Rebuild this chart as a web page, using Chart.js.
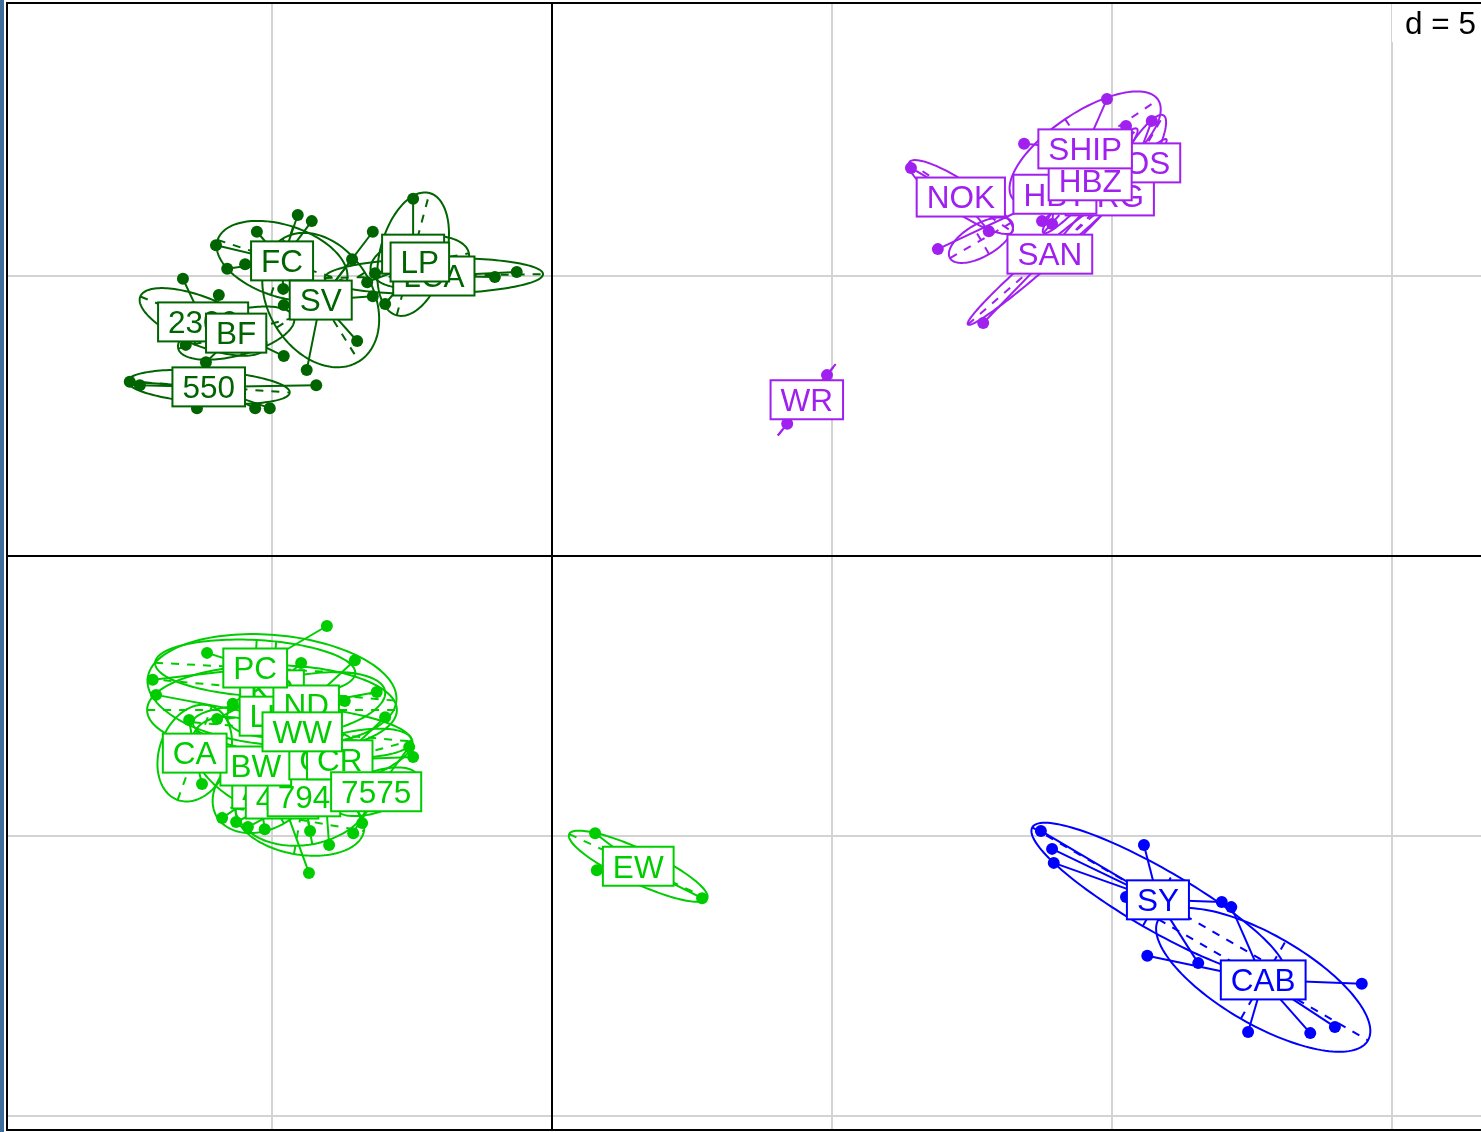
<!DOCTYPE html>
<html>
<head>
<meta charset="utf-8">
<script src="https://cdn.jsdelivr.net/npm/chart.js@4/dist/chart.umd.min.js"></script>
<style>
  html, body { margin: 0; padding: 0; background: #ffffff; }
  #wrap { position: relative; width: 1481px; height: 1132px; overflow: hidden; }
  #wrap canvas { position: absolute; left: 0; top: 0; }
  #edge { position: absolute; left: 0; top: 0; width: 4px; height: 1132px; background: #3e6f9b; }
</style>
</head>
<body>
<div id="wrap">
  <canvas id="plot" width="1481" height="1132"></canvas>
  <div id="edge"></div>
</div>
<script>
// ---- Grid ----
const gridStep = 5;
const xGrid = [-5, 0, 5, 10, 15];
const yGrid = [5, 0, -5, -10];
const xRange = [-9.732, 16.589];
const yRange = [-10.25, 9.875];

// ---- Groups ----
const groupNames = ['north-west', 'north-east', 'south-west', 'south-east'];
const groupColours = ['#006400', '#A020F0', '#00CD00', '#0000FF'];

// ---- Classes (label drawing order) ----
const classNames = ['2300', 'BF', '550', 'FC', 'LCA', 'LG', 'LP', 'SV',
                    'ARG', 'COS', 'HBT', 'HBZ', 'NOK', 'SAN', 'SHIP', 'WR',
                    'AN', '410', '794', 'BW', 'CA', 'CO', 'CR', '7575', 'KR', 'LU', 'ND', 'PC', 'WW', 'EW',
                    'CAB', 'SY'];
const classGroup = [0, 0, 0, 0, 0, 0, 0, 0,
                    1, 1, 1, 1, 1, 1, 1, 1,
                    2, 2, 2, 2, 2, 2, 2, 2, 2, 2, 2, 2, 2, 2,
                    3, 3];
// class centroids
const centreX = [-6.23, -5.64, -6.13, -4.82, -2.11, -2.48, -2.36, -4.13,
                 9.96, 10.43, 8.98, 9.61, 7.30, 8.89, 9.52, 4.55,
                 -5.14, -4.82, -4.43, -5.29, -6.38, -4.09, -3.79, -3.14, -5.00, -5.04, -4.39, -5.30, -4.46, 1.54,
                 12.70, 10.82];
const centreY = [4.18, 3.98, 3.02, 5.27, 5.00, 5.39, 5.25, 4.57,
                 6.43, 7.02, 6.46, 6.70, 6.41, 5.39, 7.27, 2.79,
                 -4.16, -4.34, -4.30, -3.75, -3.52, -3.64, -3.64, -4.21, -2.39, -2.86, -2.66, -2.00, -3.14, -5.54,
                 -7.57, -6.14];
// ellipse centres, half-axes and orientation (degrees)
const ellX = [-6.23, -5.64, -6.13, -4.82, -2.11, -2.48, -2.36, -4.13,
              9.96, 10.43, 7.66, 9.61, 7.30, 8.71, 9.52, 4.55,
              -5.14, -4.50, -4.43, -5.29, -6.38, -4.09, -3.79, -3.14, -5.00, -5.00, -4.39, -5.30, -4.46, 1.54,
              12.70, 10.82];
const ellY = [4.18, 3.98, 3.02, 5.27, 5.00, 5.39, 5.25, 4.57,
              6.43, 7.02, 5.64, 6.70, 6.41, 5.25, 7.27, 2.79,
              -4.16, -4.71, -4.30, -3.75, -3.52, -3.64, -3.64, -4.21, -2.39, -2.75, -2.66, -2.00, -3.14, -5.54,
              -7.57, -6.14];
const ellA = [1.21, 1.07, 1.45, 1.21, 1.95, 1.13, 0.89, 1.29,
              1.43, 0.98, 0.64, 1.25, 1.11, 1.70, 1.57, 0.82,
              0.98, 1.16, 1.25, 1.25, 0.89, 0.71, 1.34, 0.80, 2.23, 2.23, 1.43, 1.79, 1.96, 1.36,
              2.16, 2.59];
const ellB = [0.43, 0.40, 0.29, 0.64, 0.32, 0.59, 0.45, 0.93,
              0.14, 0.25, 0.29, 0.18, 0.27, 0.16, 0.64, 0.00,
              0.71, 0.62, 0.86, 0.71, 0.63, 0.54, 0.45, 0.36, 0.98, 0.80, 0.54, 0.50, 0.45, 0.30,
              0.80, 0.54];
const ellAngle = [-22, 15, -4, -18, 1, 75, 10, -58,
                  45, 60, 30, 48, -34, 41, 34, 51,
                  30, -10, 10, -30, 70, 0, 15, 20, -5, 0, 10, -3, -5, -25,
                  -30, -30];

// ---- Individual sites ----
const ptClass = [
  '2300', '2300', '2300',
  'BF', 'BF',
  '550', '550', '550', '550', '550', '550',
  'FC', 'FC', 'FC', 'FC', 'FC', 'FC', 'FC',
  'LCA', 'LCA',
  'LG',
  'LP', 'LP', 'LP',
  'SV', 'SV', 'SV', 'SV', 'SV', 'SV',
  'ARG',
  'COS', 'COS',
  'HBT', 'HBT',
  'HBZ',
  'NOK', 'NOK',
  'SAN',
  'SHIP', 'SHIP',
  'WR', 'WR',
  'PC', 'PC', 'PC',
  'KR', 'KR',
  'LU', 'LU',
  'ND', 'ND',
  'WW',
  'CA', 'CA',
  'CR', 'CR', 'CR',
  '7575', '7575',
  'AN',
  '410', '410',
  '794', '794',
  'BW',
  'CO',
  'EW', 'EW', 'EW',
  'SY', 'SY', 'SY', 'SY', 'SY', 'SY', 'SY',
  'CAB', 'CAB', 'CAB', 'CAB', 'CAB', 'CAB'
];
const ptX = [
  -6.59, -5.95, -6.54,
  -4.79, -6.18,
  -7.54, -7.36, -6.34, -5.30, -5.04, -4.21,
  -4.54, -4.29, -5.27, -6.00, -5.48, -5.80, -4.80,
  -1.02, -0.63,
  -2.48,
  -3.16, -3.30, -2.98,
  -4.79, -4.38, -3.48, -3.20, -3.57, -3.20,
  10.64,
  10.71, 10.25,
  6.89, 8.93,
  8.75,
  6.41, 7.80,
  7.70,
  9.91, 8.43,
  4.91, 4.20,
  -4.02, -6.16, -7.13,
  -4.48, -5.98,
  -7.07, -5.70,
  -3.52, -3.13,
  -3.70,
  -6.48, -6.25,
  -2.98, -2.48, -3.39,
  -2.55, -3.55,
  -5.89,
  -5.64, -4.34,
  -5.43, -4.32,
  -5.13,
  -3.98,
  0.77, 0.80, 2.68,
  8.73, 8.93, 8.96, 10.57, 10.25, 11.96, 11.54,
  10.63, 12.13, 14.46, 12.43, 13.54, 13.98
];
const ptY = [
  4.95, 4.66, 3.77,
  3.57, 3.46,
  3.11, 3.05, 2.64, 2.64, 2.64, 3.05,
  6.09, 5.98, 5.79, 5.55, 5.21, 5.13, 4.77,
  4.98, 5.07,
  6.38,
  5.05, 4.89, 4.50,
  4.48, 3.32, 3.84, 5.79, 5.30, 4.64,
  7.21,
  7.77, 7.68,
  5.48, 5.93,
  5.98,
  6.93, 5.80,
  4.16,
  8.16, 7.36,
  3.23, 2.36,
  -1.25, -1.73, -2.21,
  -1.91, -2.91,
  -2.48, -2.64,
  -1.86, -2.43,
  -2.59,
  -2.93, -4.07,
  -2.88, -3.59, -4.77,
  -3.41, -4.95,
  -4.68,
  -4.75, -5.66,
  -4.84, -4.91,
  -4.88,
  -5.16,
  -4.95, -5.61, -6.11,
  -4.91, -5.23, -5.48, -5.16, -6.09, -6.18, -7.27,
  -7.14, -6.27, -7.64, -8.50, -8.52, -8.41
];

// ---- Datasets: one per class, built from the arrays above ----
const datasets = classNames.map((name, i) => {
  const data = [];
  ptClass.forEach((c, k) => { if (c === name) data.push({ x: ptX[k], y: ptY[k] }); });
  const col = groupColours[classGroup[i]];
  return {
    label: name,
    data,
    backgroundColor: col,
    borderColor: col,
    borderWidth: 0,
    pointRadius: 6,
    pointHoverRadius: 6,
    showLine: false
  };
});

const FONT = '31.5px "Liberation Sans", Arial, Helvetica, sans-serif';
const LINE = 2;

// Draws grid, class ellipses with their axes, stars, labels and frame
const classPlot = {
  id: 'classPlot',
  beforeDatasetsDraw(chart) {
    const { ctx, chartArea: a, scales: { x, y } } = chart;
    ctx.save();
    // grid
    ctx.lineWidth = 2;
    ctx.strokeStyle = '#d3d3d3';
    xGrid.forEach(v => {
      if (v === 0) return;
      const p = Math.round(x.getPixelForValue(v));
      ctx.beginPath(); ctx.moveTo(p, a.top); ctx.lineTo(p, a.bottom); ctx.stroke();
    });
    yGrid.forEach(v => {
      if (v === 0) return;
      const p = Math.round(y.getPixelForValue(v));
      ctx.beginPath(); ctx.moveTo(a.left, p); ctx.lineTo(a.right, p); ctx.stroke();
    });
    // zero axes
    ctx.strokeStyle = '#000000';
    const x0 = Math.round(x.getPixelForValue(0));
    const y0 = Math.round(y.getPixelForValue(0));
    ctx.beginPath(); ctx.moveTo(x0, a.top); ctx.lineTo(x0, a.bottom); ctx.stroke();
    ctx.beginPath(); ctx.moveTo(a.left, y0); ctx.lineTo(a.right, y0); ctx.stroke();

    // ellipses and their axes
    classNames.forEach((name, i) => {
      const col = groupColours[classGroup[i]];
      const t = ellAngle[i] * Math.PI / 180, c = Math.cos(t), s = Math.sin(t);
      const cx = ellX[i], cy = ellY[i], A = ellA[i], B = ellB[i];
      ctx.strokeStyle = col;
      ctx.lineWidth = LINE;
      ctx.setLineDash([]);
      ctx.beginPath();
      for (let k = 0; k <= 144; k++) {
        const u = k / 144 * 2 * Math.PI;
        const ex = A * Math.cos(u), ey = B * Math.sin(u);
        const px = x.getPixelForValue(cx + ex * c - ey * s);
        const py = y.getPixelForValue(cy + ex * s + ey * c);
        if (k) ctx.lineTo(px, py); else ctx.moveTo(px, py);
      }
      ctx.closePath();
      ctx.stroke();
      ctx.setLineDash([8, 8]);
      ctx.beginPath();
      ctx.moveTo(x.getPixelForValue(cx - A * c), y.getPixelForValue(cy - A * s));
      ctx.lineTo(x.getPixelForValue(cx + A * c), y.getPixelForValue(cy + A * s));
      ctx.stroke();
      if (B > 0) {
        ctx.beginPath();
        ctx.moveTo(x.getPixelForValue(cx + B * s), y.getPixelForValue(cy - B * c));
        ctx.lineTo(x.getPixelForValue(cx - B * s), y.getPixelForValue(cy + B * c));
        ctx.stroke();
      }
    });
    ctx.setLineDash([]);

    // stars: each site joined to its class centroid
    ctx.lineWidth = LINE;
    ptClass.forEach((name, k) => {
      const i = classNames.indexOf(name);
      ctx.strokeStyle = groupColours[classGroup[i]];
      ctx.beginPath();
      ctx.moveTo(x.getPixelForValue(ptX[k]), y.getPixelForValue(ptY[k]));
      ctx.lineTo(x.getPixelForValue(centreX[i]), y.getPixelForValue(centreY[i]));
      ctx.stroke();
    });
    ctx.restore();
  },
  afterDatasetsDraw(chart) {
    const { ctx, chartArea: a, scales: { x, y } } = chart;
    ctx.save();
    ctx.font = FONT;
    ctx.textAlign = 'center';
    ctx.textBaseline = 'alphabetic';
    classNames.forEach((name, i) => {
      const col = groupColours[classGroup[i]];
      const px = x.getPixelForValue(centreX[i]);
      const py = y.getPixelForValue(centreY[i]);
      const w = ctx.measureText(name).width + 20;
      const h = 39;
      ctx.fillStyle = '#ffffff';
      ctx.fillRect(px - w / 2, py - h / 2, w, h);
      ctx.strokeStyle = col;
      ctx.lineWidth = 2;
      ctx.strokeRect(px - w / 2, py - h / 2, w, h);
      ctx.fillStyle = col;
      ctx.fillText(name, px, py + 11.3);
    });

    // scale box
    const txt = 'd = ' + gridStep;
    ctx.fillStyle = '#ffffff';
    ctx.fillRect(a.right - 89, a.top, 89, 39);
    ctx.fillStyle = '#000000';
    ctx.textAlign = 'right';
    ctx.fillText(txt, a.right - 5, a.top + 31);

    // frame
    ctx.strokeStyle = '#000000';
    ctx.lineWidth = 2;
    ctx.strokeRect(a.left, a.top, a.right - a.left + 4, a.bottom - a.top);
    ctx.restore();
  }
};

new Chart(document.getElementById('plot'), {
  type: 'scatter',
  data: { datasets },
  options: {
    responsive: false,
    devicePixelRatio: 1,
    animation: false,
    layout: { autoPadding: false, padding: { left: 7, top: 3, right: 0, bottom: 2 } },
    plugins: { legend: { display: false }, tooltip: { enabled: false } },
    scales: {
      x: { type: 'linear', min: xRange[0], max: xRange[1], display: false },
      y: { type: 'linear', min: yRange[0], max: yRange[1], display: false }
    }
  },
  plugins: [classPlot]
});
</script>
</body>
</html>
